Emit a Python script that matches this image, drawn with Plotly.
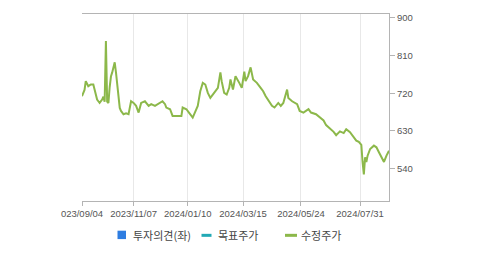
import plotly.graph_objects as go

# ---- data ----
dates = [
    "2023-09-04", "2023-09-06", "2023-09-07", "2023-09-11", "2023-09-13", "2023-09-15",
    "2023-09-18", "2023-09-20", "2023-09-21", "2023-09-22", "2023-09-26", "2023-09-27",
    "2023-10-04", "2023-10-05", "2023-10-06", "2023-10-10", "2023-10-11", "2023-10-12",
    "2023-10-13", "2023-10-16", "2023-10-17", "2023-10-18", "2023-10-19", "2023-10-20",
    "2023-10-23", "2023-10-24", "2023-10-26", "2023-10-30", "2023-11-01", "2023-11-03",
    "2023-11-07", "2023-11-09", "2023-11-13", "2023-11-15", "2023-11-20", "2023-11-23",
    "2023-11-27", "2023-11-30", "2023-12-04", "2023-12-08", "2023-12-12", "2023-12-13",
    "2023-12-18", "2023-12-20", "2023-12-26", "2024-01-03", "2024-01-04", "2024-01-09",
    "2024-01-11", "2024-01-16", "2024-01-22", "2024-01-24", "2024-01-26", "2024-01-30",
    "2024-02-01", "2024-02-05", "2024-02-08", "2024-02-15", "2024-02-19", "2024-02-20",
    "2024-02-22", "2024-02-26", "2024-02-28", "2024-02-29", "2024-03-05", "2024-03-07",
    "2024-03-12", "2024-03-14", "2024-03-18", "2024-03-19", "2024-03-21", "2024-03-25",
    "2024-03-27", "2024-04-01", "2024-04-04", "2024-04-08", "2024-04-11", "2024-04-15",
    "2024-04-18", "2024-04-22", "2024-04-25", "2024-04-29", "2024-05-02", "2024-05-08",
    "2024-05-09", "2024-05-14", "2024-05-17", "2024-05-21", "2024-05-23", "2024-05-28",
    "2024-06-03", "2024-06-05", "2024-06-12", "2024-06-17", "2024-06-20", "2024-06-24",
    "2024-06-27", "2024-07-02", "2024-07-04", "2024-07-09", "2024-07-12", "2024-07-16",
    "2024-07-19", "2024-07-23", "2024-07-26", "2024-07-30", "2024-08-01", "2024-08-02",
    "2024-08-05", "2024-08-06", "2024-08-07", "2024-08-08", "2024-08-12", "2024-08-16",
    "2024-08-20", "2024-08-22", "2024-08-27", "2024-08-28", "2024-08-30", "2024-09-03",
]
adj_price = [
    713, 728, 749, 737, 741, 741,
    729, 705, 701, 697, 705, 712,
    700, 845, 700, 697, 735, 760,
    770, 785, 794, 770, 740, 705,
    685, 678, 670, 672, 670, 701,
    697, 690, 674, 697, 701, 690,
    694, 690, 694, 701, 694, 686,
    682, 666, 666, 666, 686, 682,
    674, 662, 690, 725, 745, 741,
    721, 709, 721, 733, 770, 749,
    721, 717, 733, 753, 729, 761,
    745, 733, 772, 749, 761, 782,
    753, 745, 733, 725, 713, 705,
    690, 686, 697, 690, 697, 729,
    709, 701, 697, 694, 678, 674,
    682, 674, 670, 662, 655, 644,
    636, 628, 620, 629, 625, 634,
    627, 619, 607, 604, 597, 556,
    526, 567, 556, 571, 587, 595,
    591, 579, 564, 556, 571, 583,
]
market_holidays = [
    "2023-09-28", "2023-09-29", "2023-10-02", "2023-10-03", "2023-10-09",
    "2023-12-25", "2023-12-29", "2024-01-01", "2024-02-09", "2024-02-12",
    "2024-03-01", "2024-04-10", "2024-05-01", "2024-05-06", "2024-05-15",
    "2024-06-06", "2024-08-15",
]
tick_dates = ["2023-09-04", "2023-11-07", "2024-01-10", "2024-03-15", "2024-05-24", "2024-07-31"]
tick_labels = ["023/09/04", "2023/11/07", "2024/01/10", "2024/03/15", "2024/05/24", "2024/07/31"]
price_ticks = [540, 630, 720, 810, 900]
legend_names = ["투자의견(좌)", "목표주가", "수정주가"]

GREEN = "#8cb84a"
BLUE = "#2e7de1"
TEAL = "#22a9b5"
AXIS = "#b4b4b4"
GRID = "#e8e8e8"
TXT = "#555555"

fig = go.Figure()
fig.add_trace(go.Scatter(x=dates, y=adj_price, mode="lines", yaxis="y2",
                         line=dict(color=GREEN, width=2), name=legend_names[2],
                         showlegend=False))

fig.update_layout(
    width=479, height=255,
    margin=dict(l=82, r=90, t=12, b=54),
    paper_bgcolor="white", plot_bgcolor="white",
    showlegend=False,
    xaxis=dict(
        type="date",
        range=["2023-09-04", "2024-09-03"],
        rangebreaks=[dict(bounds=["sat", "mon"]), dict(values=market_holidays)],
        tickmode="array", tickvals=tick_dates, ticktext=tick_labels,
        showgrid=True, gridcolor=GRID, gridwidth=1,
        showline=True, linecolor=AXIS, linewidth=1, mirror=True,
        ticks="outside", ticklen=4, tickcolor=AXIS,
        tickfont=dict(family="Liberation Sans", size=9.5, color=TXT),
        zeroline=False,
    ),
    yaxis=dict(
        range=[-1, 1], tickmode="array", tickvals=[0], ticktext=["0"],
        showgrid=True, gridcolor=GRID, zeroline=False,
        showline=True, linecolor=AXIS, linewidth=1,
        ticks="outside", ticklen=5, tickcolor=AXIS,
        tickfont=dict(family="Liberation Sans", size=9.5, color=TXT),
    ),
    yaxis2=dict(
        overlaying="y", side="right",
        range=[462.7, 909.5], tickmode="array", tickvals=price_ticks,
        ticktext=[str(v) for v in price_ticks],
        showgrid=False, zeroline=False,
        showline=True, linecolor=AXIS, linewidth=1,
        ticks="outside", ticklen=5, tickcolor=AXIS,
        tickfont=dict(family="Liberation Sans", size=9.5, color=TXT),
    ),
)

# ---- legend (drawn manually) ----
def px_x(px):
    return (px - 82) / 307.0

def px_y(py):
    return (201 - py) / 189.0

fig.add_shape(type="rect", xref="paper", yref="paper",
              x0=px_x(117.5), x1=px_x(126), y0=px_y(239.5), y1=px_y(231),
              fillcolor=BLUE, line=dict(width=0))
fig.add_shape(type="line", xref="paper", yref="paper",
              x0=px_x(201.5), x1=px_x(211.5), y0=px_y(235.7), y1=px_y(235.7),
              line=dict(color=TEAL, width=3))
fig.add_shape(type="line", xref="paper", yref="paper",
              x0=px_x(285), x1=px_x(297), y0=px_y(235.7), y1=px_y(235.7),
              line=dict(color=GREEN, width=3))
for name, lx in zip(legend_names, [130.5, 215.5, 299]):
    fig.add_annotation(text=name, xref="paper", yref="paper",
                       x=px_x(lx), y=px_y(235.7), xanchor="left", yanchor="middle",
                       showarrow=False,
                       font=dict(family="Noto Sans CJK KR", size=11, color="#444444"))

fig.write_html("out.html")
